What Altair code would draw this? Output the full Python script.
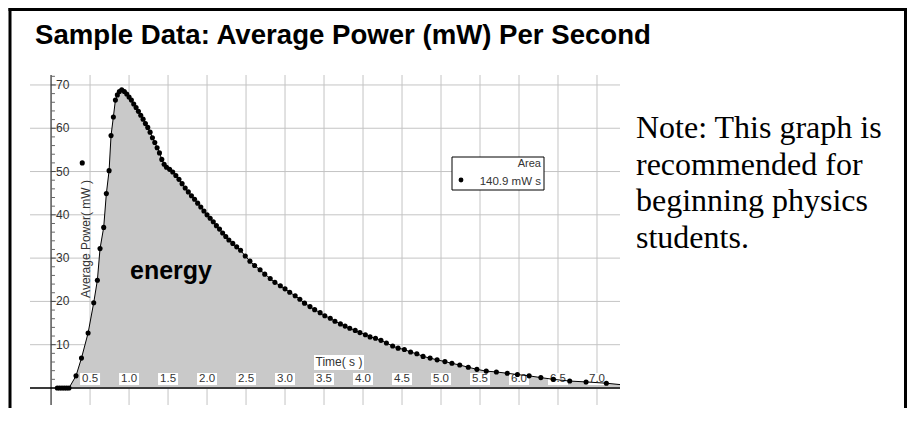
import altair as alt
import pandas as pd

# ---------------- data ----------------
time_s = [0.08, 0.11, 0.14, 0.17, 0.20, 0.23,
          0.32, 0.39, 0.475, 0.547, 0.594, 0.628, 0.675, 0.709, 0.744, 0.769,
          0.799, 0.825, 0.85, 0.876, 0.906, 0.94, 0.97, 1.00, 1.03, 1.06,
          1.09, 1.12, 1.15, 1.18, 1.21, 1.24, 1.27, 1.30, 1.33, 1.36,
          1.39, 1.42, 1.45, 1.48, 1.52, 1.56, 1.60, 1.64, 1.68, 1.72,
          1.76, 1.80, 1.84, 1.88, 1.92, 1.96, 2.00, 2.04, 2.08, 2.12,
          2.16, 2.20, 2.24, 2.28, 2.33, 2.38, 2.43, 2.49, 2.55, 2.61,
          2.68, 2.74, 2.81, 2.87, 2.94, 3.00, 3.06, 3.13, 3.19, 3.25,
          3.32, 3.38, 3.45, 3.51, 3.58, 3.64, 3.71, 3.77, 3.83, 3.90,
          3.96, 4.03, 4.09, 4.16, 4.23, 4.30, 4.38, 4.45, 4.53, 4.61,
          4.69, 4.77, 4.86, 4.95, 5.05, 5.14, 5.24, 5.35, 5.46, 5.58,
          5.71, 5.85, 5.98, 6.13, 6.28, 6.44, 6.65, 6.86, 7.12, 7.40]
power_mw = [0, 0, 0, 0, 0, 0,
            2.8, 6.9, 12.7, 19.7, 24.9, 32.2, 37.1, 44.9, 50.2, 58.3,
            62.6, 66.5, 67.7, 68.5, 68.9, 68.5, 67.9, 67.2, 66.5, 65.6,
            64.8, 63.9, 63.0, 62.1, 61.1, 60.2, 59.1, 57.8, 56.7, 55.5,
            54.3, 52.8, 51.7, 51.0, 50.5, 49.9, 49.1, 48.2, 47.2, 46.2,
            45.3, 44.4, 43.6, 42.7, 41.8, 40.9, 40.0, 39.2, 38.4, 37.5,
            36.7, 35.8, 35.0, 34.2, 33.4, 32.6, 31.8, 30.5, 29.3, 28.3,
            27.3, 26.3, 25.3, 24.4, 23.6, 22.9, 22.1, 21.3, 20.5, 19.6,
            18.8, 18.1, 17.4, 16.7, 16.1, 15.4, 14.8, 14.3, 13.8, 13.3,
            12.8, 12.3, 11.8, 11.5, 11.0, 10.4, 9.7, 9.2, 8.9, 8.3,
            7.9, 7.3, 6.9, 6.5, 6.1, 5.7, 5.3, 4.8, 4.3, 3.9,
            3.7, 3.4, 3.1, 2.8, 2.4, 2.0, 1.6, 1.4, 1.1, 0.6]
outlier_t = [0.40]
outlier_p = [52.0]

x_ticks = [0.5, 1.0, 1.5, 2.0, 2.5, 3.0, 3.5, 4.0, 4.5, 5.0, 5.5, 6.0, 6.5, 7.0]
y_ticks = [10, 20, 30, 40, 50, 60, 70]
y_minor = [2, 4, 6, 8, 12, 14, 16, 18, 22, 24, 26, 28, 32, 34, 36, 38,
           42, 44, 46, 48, 52, 54, 56, 58, 62, 64, 66, 68, 72]

title_text = "Sample Data: Average Power (mW) Per Second"
note_lines = ["Note: This graph is", "recommended for", "beginning physics", "students."]
x_title = "Time( s )"
y_title = "Average Power( mW )"
area_word = "energy"
legend_title = "Area"
legend_value = "140.9 mW s"

# ---------------- layout ----------------
W, H = 590, 330
PAD_L, PAD_T = 22, 67
TOTAL_W, TOTAL_H = 899, 400

xs = alt.Scale(domain=[-0.27, 7.295], nice=False, zero=False)
ys = alt.Scale(domain=[-3.93, 72.3], nice=False, zero=False)

curve = pd.DataFrame({"t": time_s, "p": power_mw})
outl = pd.DataFrame({"t": outlier_t, "p": outlier_p})
xt = pd.DataFrame({"t": x_ticks, "p": [0] * len(x_ticks),
                   "lab": [f"{v:.1f}" for v in x_ticks]})
yt = pd.DataFrame({"t": [0] * len(y_ticks), "p": y_ticks,
                   "lab": [str(v) for v in y_ticks]})
ym = pd.DataFrame({"t": [0] * len(y_minor), "t2": [0.05] * len(y_minor), "p": y_minor})
zero = pd.DataFrame({"t": [0], "p": [0]})
one = pd.DataFrame({"a": [0]})

X = lambda f="t": alt.X(f"{f}:Q", scale=xs, axis=None)
Y = lambda f="p": alt.Y(f"{f}:Q", scale=ys, axis=None)

GRID = "#c4c4c4"
FS = "Liberation Sans"

area = alt.Chart(curve).mark_area(color="#c9c9c9", clip=True).encode(
    x=X(), y=Y(), y2=alt.datum(0))

vgrid = alt.Chart(xt).mark_rule(color=GRID, strokeWidth=1).encode(
    x=X(), y=alt.value(0), y2=alt.value(H))
hgrid = alt.Chart(yt).mark_rule(color=GRID, strokeWidth=1).encode(
    y=Y(), x=alt.value(0), x2=alt.value(W))

xaxis = alt.Chart(zero).mark_rule(color="#3a3a3a", strokeWidth=2).encode(
    y=Y(), x=alt.value(0), x2=alt.value(W))
yaxis = alt.Chart(zero).mark_rule(color="#000000", strokeWidth=1).encode(
    x=X(), y=alt.value(0), y2=alt.value(H))

yminor = alt.Chart(ym).mark_rule(color="#666666", strokeWidth=1).encode(
    x=X(), x2="t2:Q", y=Y())
ymajor_df = yt.assign(t2=0.06)
ymajor = alt.Chart(ymajor_df).mark_rule(color="#444444", strokeWidth=1).encode(
    x=X(), x2="t2:Q", y=Y())
ylabels = alt.Chart(yt).mark_text(align="left", baseline="middle", dx=5,
                                   font=FS, fontSize=12, color="#333333").encode(
    x=X(), y=Y(), text="lab:N")

box_shape = "M-1,-0.6L1,-0.6L1,0.6L-1,0.6Z"
xlab_bg = alt.Chart(xt).mark_point(shape=box_shape, filled=True, color="white",
                                    opacity=1, size=400, yOffset=-9).encode(x=X(), y=Y())
xlabels = alt.Chart(xt).mark_text(align="center", baseline="middle", dy=-9,
                                   font=FS, fontSize=11.5, color="#333333").encode(
    x=X(), y=Y(), text="lab:N")

line = alt.Chart(curve).mark_line(color="black", strokeWidth=1, clip=True).encode(x=X(), y=Y())
pts = alt.Chart(curve).mark_circle(color="black", size=26, opacity=1, clip=True).encode(x=X(), y=Y())
opts = alt.Chart(outl).mark_circle(color="black", size=26, opacity=1).encode(x=X(), y=Y())

# axis titles
ytitle = alt.Chart(one).mark_text(angle=270, align="center", baseline="middle",
                                  font=FS, fontSize=12, color="#333333").encode(
    x=alt.value(56), y=alt.value(164), text=alt.value(y_title))
xtitle_bg = alt.Chart(one).mark_rect(color="white").encode(
    x=alt.value(284), x2=alt.value(334), y=alt.value(280), y2=alt.value(295))
xtitle = alt.Chart(one).mark_text(align="center", baseline="middle",
                                  font=FS, fontSize=12, color="#333333").encode(
    x=alt.value(309), y=alt.value(287), text=alt.value(x_title))

energy = alt.Chart(one).mark_text(align="center", baseline="alphabetic",
                                  font=FS, fontSize=25, fontWeight="bold", color="black").encode(
    x=alt.value(141), y=alt.value(204), text=alt.value(area_word))

# legend box
leg_box = alt.Chart(one).mark_rect(fill="white", stroke="black", strokeWidth=1).encode(
    x=alt.value(422), x2=alt.value(514), y=alt.value(82), y2=alt.value(115))
leg_t1 = alt.Chart(one).mark_text(align="right", baseline="alphabetic", font=FS,
                                  fontSize=11, color="#333333").encode(
    x=alt.value(511), y=alt.value(92), text=alt.value(legend_title))
leg_t2 = alt.Chart(one).mark_text(align="right", baseline="alphabetic", font=FS,
                                  fontSize=11.5, color="#333333").encode(
    x=alt.value(511), y=alt.value(110), text=alt.value(legend_value))
leg_dot = alt.Chart(one).mark_circle(color="black", size=24, opacity=1).encode(
    x=alt.value(431), y=alt.value(105))

# page title and note
title = alt.Chart(one).mark_text(align="left", baseline="alphabetic", font=FS,
                                 fontSize=27.6, fontWeight="bold", color="black").encode(
    x=alt.value(5), y=alt.value(-31), text=alt.value(title_text))
note = alt.Chart(one).mark_text(align="left", baseline="alphabetic", font="Liberation Serif",
                                fontSize=32, lineHeight=36.7, color="black").encode(
    x=alt.value(606), y=alt.value(63), text=alt.value(note_lines))

# frame
frame_l = alt.Chart(one).mark_rule(color="black", strokeWidth=3).encode(
    x=alt.value(-20), y=alt.value(-67), y2=alt.value(TOTAL_H - PAD_T))
frame_t = alt.Chart(one).mark_rule(color="black", strokeWidth=3).encode(
    y=alt.value(-65.5), x=alt.value(-21.5), x2=alt.value(TOTAL_W - PAD_L - 1.5))
frame_r = alt.Chart(one).mark_rule(color="black", strokeWidth=3).encode(
    x=alt.value(TOTAL_W - PAD_L - 1.5), y=alt.value(-67), y2=alt.value(TOTAL_H - PAD_T))

chart = alt.layer(
    vgrid, hgrid, area, xaxis, yaxis, yminor, ymajor, ylabels,
    xlab_bg, xlabels, ytitle, xtitle_bg, xtitle, energy,
    line, pts, opts, leg_box, leg_t1, leg_t2, leg_dot,
    title, note, frame_l, frame_t, frame_r,
).properties(
    width=W, height=H,
    autosize=alt.AutoSizeParams(type="none"),
    padding={"left": PAD_L, "top": PAD_T, "right": TOTAL_W - PAD_L - W,
             "bottom": TOTAL_H - PAD_T - H},
    background="white",
).configure_view(stroke=None)

chart.save("out.html", embed_options={"renderer": "svg", "actions": False})
